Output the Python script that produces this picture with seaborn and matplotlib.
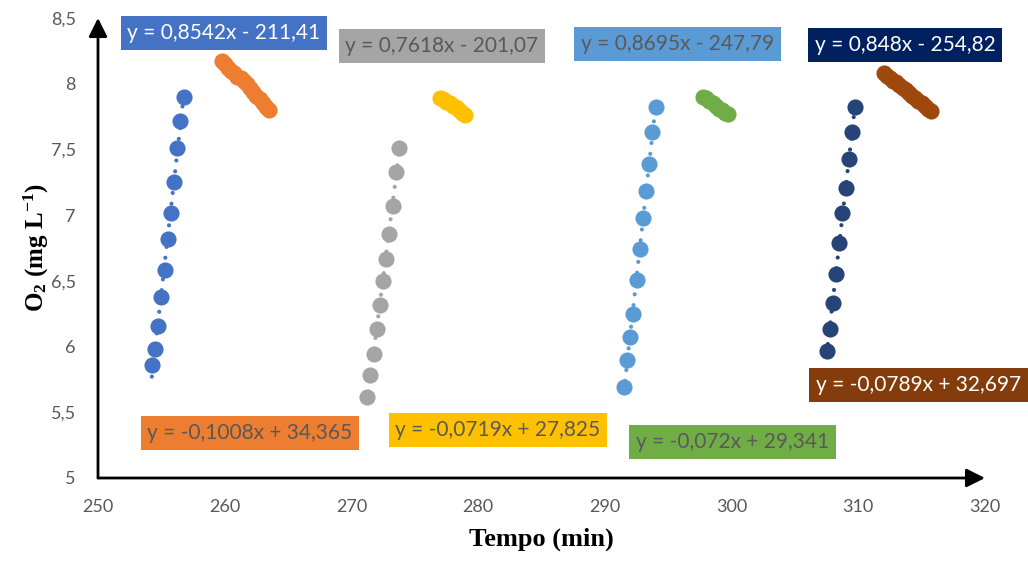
import numpy as np
import pandas as pd
import matplotlib
matplotlib.use("Agg")
import matplotlib.pyplot as plt
from matplotlib.ticker import FuncFormatter, MultipleLocator
import seaborn as sns

sns.set_theme(style="white")
plt.rcParams["font.family"] = ["Lato", "DejaVu Sans"]
plt.rcParams["mathtext.fontset"] = "custom"
plt.rcParams["mathtext.bf"] = "Liberation Serif:bold"
plt.rcParams["mathtext.rm"] = "Liberation Serif:bold"
plt.rcParams["mathtext.default"] = "bf"

# ---------------------------------------------------------------------
# dados
# ---------------------------------------------------------------------
t_blue = [254.25, 254.5, 254.75, 255.0, 255.25, 255.5, 255.75, 256.0, 256.25, 256.5, 256.75]
o2_blue = [5.86, 5.98, 6.16, 6.38, 6.58, 6.82, 7.02, 7.25, 7.51, 7.72, 7.90]

t_orange = [259.75, 260.0, 260.25, 260.5, 260.75, 261.0, 261.25, 261.5,
            261.75, 262.0, 262.25, 262.5, 262.75, 263.0, 263.25, 263.5]
o2_orange = [8.17, 8.15, 8.12, 8.10, 8.08, 8.05, 8.04, 8.02,
             8.00, 7.97, 7.94, 7.91, 7.88, 7.85, 7.82, 7.80]

t_gray = [271.25, 271.5, 271.75, 272.0, 272.25, 272.5, 272.75, 273.0, 273.25, 273.5, 273.75]
o2_gray = [5.62, 5.78, 5.94, 6.13, 6.32, 6.50, 6.67, 6.86, 7.07, 7.33, 7.51]

t_yellow = [277.0, 277.25, 277.5, 277.75, 278.0, 278.25, 278.5, 278.75, 279.0]
o2_yellow = [7.89, 7.88, 7.86, 7.85, 7.83, 7.82, 7.80, 7.78, 7.76]

t_lblue = [291.5, 291.75, 292.0, 292.25, 292.5, 292.75, 293.0, 293.25, 293.5, 293.75, 294.0]
o2_lblue = [5.69, 5.90, 6.07, 6.25, 6.51, 6.74, 6.98, 7.18, 7.39, 7.63, 7.82]

t_green = [297.75, 298.0, 298.25, 298.5, 298.75, 299.0, 299.25, 299.5, 299.75]
o2_green = [7.90, 7.89, 7.87, 7.85, 7.83, 7.81, 7.80, 7.78, 7.77]

t_navy = [307.5, 307.75, 308.0, 308.25, 308.5, 308.75, 309.0, 309.25, 309.5, 309.75]
o2_navy = [5.97, 6.13, 6.33, 6.55, 6.79, 7.02, 7.21, 7.43, 7.63, 7.82]

t_brown = [312.0, 312.25, 312.5, 312.75, 313.0, 313.25, 313.5, 313.75,
           314.0, 314.25, 314.5, 314.75, 315.0, 315.25, 315.5, 315.75]
o2_brown = [8.08, 8.06, 8.04, 8.02, 8.01, 7.99, 7.97, 7.95,
            7.93, 7.91, 7.89, 7.87, 7.85, 7.83, 7.81, 7.79]

equations = ["y = 0,8542x - 211,41", "y = -0,1008x + 34,365",
             "y = 0,7618x - 201,07", "y = -0,0719x + 27,825",
             "y = 0,8695x - 247,79", "y = -0,072x + 29,341",
             "y = 0,848x - 254,82", "y = -0,0789x + 32,697"]

x_ticks = [250, 260, 270, 280, 290, 300, 310, 320]
y_ticks = [5, 5.5, 6, 6.5, 7, 7.5, 8, 8.5]

# ---------------------------------------------------------------------
# estilo
# ---------------------------------------------------------------------
series = [
    (t_blue, o2_blue, "#4472C4"),
    (t_orange, o2_orange, "#ED7D31"),
    (t_gray, o2_gray, "#A5A5A5"),
    (t_yellow, o2_yellow, "#FFC000"),
    (t_lblue, o2_lblue, "#5B9BD5"),
    (t_green, o2_green, "#70AD47"),
    (t_navy, o2_navy, "#264478"),
    (t_brown, o2_brown, "#9E480E"),
]
# caixa das equações: (x, y) em dados, cor de fundo, cor do texto
eq_style = [
    (259.94, 8.387, "#4472C4", "white"),
    (262.0, 5.342, "#ED7D31", "#595959"),
    (277.15, 8.288, "#A5A5A5", "#595959"),
    (281.57, 5.365, "#FFC000", "#595959"),
    (295.70, 8.303, "#5B9BD5", "#595959"),
    (300.04, 5.274, "#70AD47", "#595959"),
    (313.69, 8.295, "#002060", "white"),
    (314.72, 5.708, "#843C0C", "white"),
]

fig = plt.figure(figsize=(10.28, 5.64), dpi=100)
ax = fig.add_axes([98 / 1028, 1 - 478 / 564, (985 - 98) / 1028, (478 - 18) / 564])

for t, o2, c in series:
    df = pd.DataFrame({"t": t, "o2": o2})
    sns.regplot(data=df, x="t", y="o2", ax=ax, ci=None, color=c,
                scatter_kws={"s": 135, "linewidths": 0, "alpha": 1, "zorder": 3},
                line_kws={"lw": 3, "linestyle": (0, (0.01, 2.6)),
                          "dash_capstyle": "round", "zorder": 4})

for txt, (x, y, bg, fg) in zip(equations, eq_style):
    ax.text(x, y, txt, ha="center", va="center", fontsize=15, color=fg,
            clip_on=False, zorder=6,
            bbox=dict(boxstyle="square,pad=0.33", fc=bg, ec="none"))

ax.set_xlim(250, 320)
ax.set_ylim(5, 8.5)
ax.xaxis.set_major_locator(MultipleLocator(10))
ax.yaxis.set_major_locator(MultipleLocator(0.5))
ax.yaxis.set_major_formatter(FuncFormatter(lambda v, p: f"{v:g}".replace(".", ",")))
ax.tick_params(axis="both", length=0, labelsize=13, labelcolor="#595959")
ax.tick_params(axis="y", pad=16)
ax.tick_params(axis="x", pad=15)

for s in ax.spines.values():
    s.set_visible(False)

# eixos com setas
arrow = dict(arrowstyle="-|>", mutation_scale=28, lw=2, color="black",
             shrinkA=0, shrinkB=0)
ax.annotate("", xy=(0, 1), xytext=(0, 0), xycoords="axes fraction", arrowprops=arrow)
ax.annotate("", xy=(1, 0), xytext=(0, 0), xycoords="axes fraction", arrowprops=arrow)

ax.set_xlabel("Tempo (min)", family="Liberation Serif", fontweight="bold",
              fontsize=19, color="black", labelpad=9)
ax.set_ylabel("O$_2$ (mg L$^{-1}$)", family="Liberation Serif",
              fontweight="bold", fontsize=18, color="black", labelpad=0)

fig.savefig("out.png", dpi=100)
